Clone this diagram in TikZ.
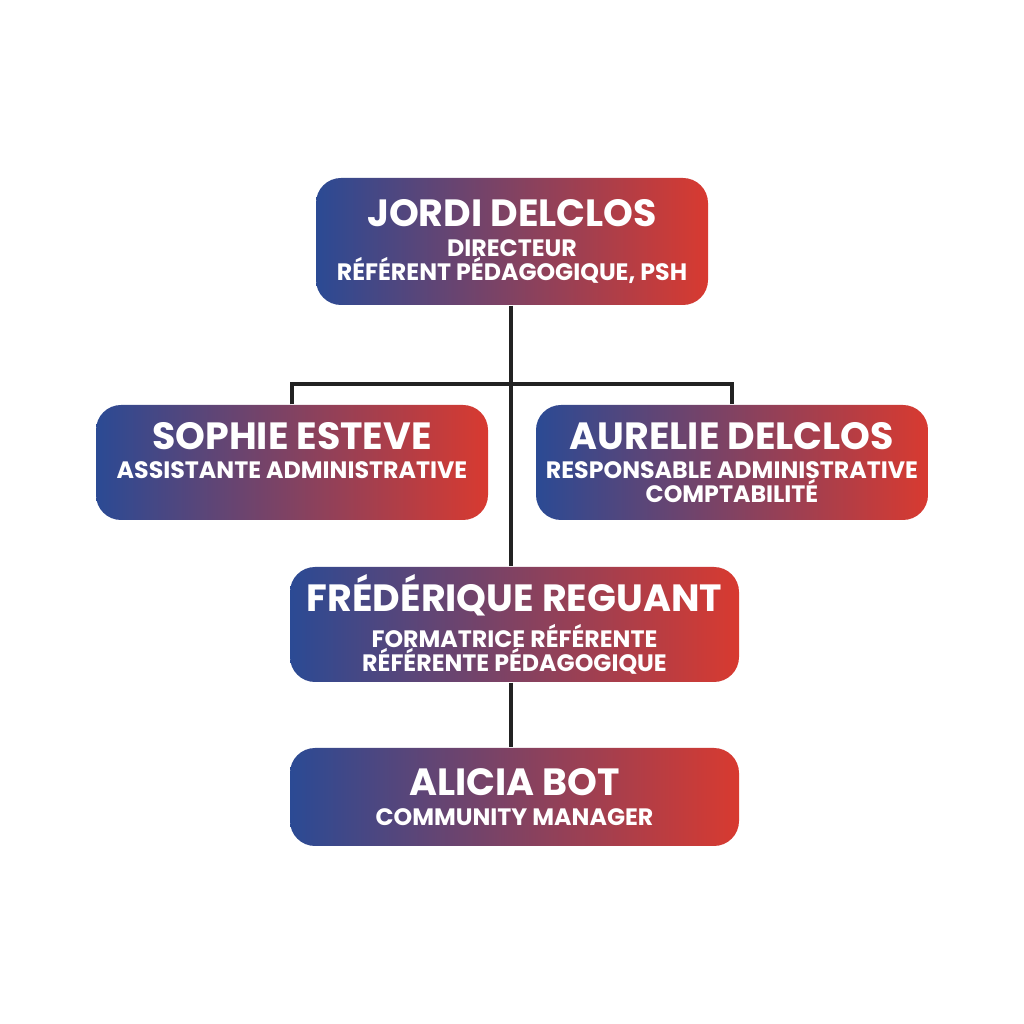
\documentclass[tikz,border=0pt]{standalone}
\usepackage{fontspec}
\setmainfont{Poppins}
\usepackage{tikz}
\usetikzlibrary{positioning}

\definecolor{bleu}{HTML}{2B4A94}
\definecolor{rouge}{HTML}{D83A30}
\definecolor{trait}{HTML}{222222}

\newcommand{\grandnom}{\fontsize{10.8pt}{6.8pt}\selectfont\bfseries}
\newcommand{\petitposte}{\fontsize{6.75pt}{6.8pt}\selectfont\bfseries}

\tikzset{
  personne/.style={rounded corners=0.25cm, left color=bleu, right color=rouge, draw=none,
    text=white, align=center, inner sep=0pt, minimum width=3.92cm, minimum height=1.15cm,
    font=\fontsize{6.75pt}{6.8pt}\selectfont},
  lien/.style={draw=trait, line width=0.9pt}
}

\begin{document}
\begin{tikzpicture}

\fill[white] (0,0) rectangle (10.24,10.24);
\useasboundingbox (0,0) rectangle (10.24,10.24);

\node[personne, minimum height=1.27cm] (jordi) at (5.12,7.825) {\grandnom JORDI DELCLOS\\[1.5pt] \petitposte DIRECTEUR\\ \petitposte RÉFÉRENT PÉDAGOGIQUE, PSH};
\node[personne, text depth=6.8pt] (sophie) at (2.92,5.615) {\grandnom SOPHIE ESTEVE\\[1.5pt] \petitposte ASSISTANTE ADMINISTRATIVE};
\node[personne] (aurelie) at (7.32,5.615) {\grandnom AURELIE DELCLOS\\[1.5pt] \petitposte RESPONSABLE ADMINISTRATIVE\\ \petitposte COMPTABILITÉ};
\node[personne, minimum width=4.49cm] (frederique) at (5.145,3.995) {\grandnom FRÉDÉRIQUE REGUANT\\[1.5pt] \petitposte FORMATRICE RÉFÉRENTE\\ \petitposte RÉFÉRENTE PÉDAGOGIQUE};
\node[personne, minimum width=4.49cm, minimum height=0.98cm] (alicia) at (5.145,2.27) {\grandnom ALICIA BOT\\[1.5pt] \petitposte COMMUNITY MANAGER};

\coordinate (branche) at (5.11,6.40);

\draw [lien](jordi.south -| branche) -- (frederique.north -| branche);
\draw [lien](sophie.north) |- (branche) -| (aurelie.north);
\draw [lien](frederique.south -| branche) -- (alicia.north -| branche);

\end{tikzpicture}
\end{document}
